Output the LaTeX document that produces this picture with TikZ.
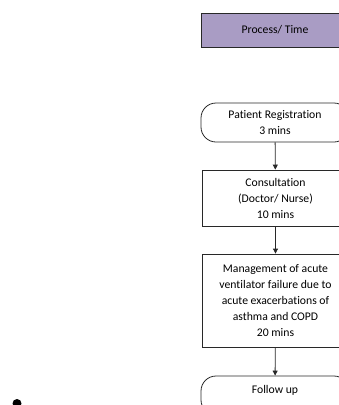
\documentclass[tikz,border=0pt]{standalone}
\usepackage{xcolor}
\usepackage{tikz}
\usepackage{fontspec}
\setmainfont{Carlito}[Ligatures=NoCommon]
\usetikzlibrary{arrows.meta, positioning}
\definecolor{headpurple}{RGB}{169, 156, 196}
\definecolor{edgegray}{RGB}{40, 40, 40}

\begin{document}
\begin{tikzpicture}[
  x=1pt, y=-1pt,
  font=\fontsize{11.7}{16}\selectfont,
  head/.style={draw=edgegray, line width=0.8pt, fill=headpurple, minimum width=148pt, minimum height=34pt, inner sep=0pt},
  proc/.style={draw=edgegray, line width=0.8pt, fill=white, minimum width=147pt, inner sep=0pt, align=center},
  term/.style={draw=edgegray, line width=0.8pt, fill=white, rounded corners=15pt, minimum width=148pt, minimum height=39pt, inner sep=0pt, align=center},
  flow/.style={-{Triangle[length=5pt, width=5pt]}, line width=0.8pt, draw=edgegray},
]
  \useasboundingbox (0,0) rectangle (339,405);
  \clip (0,0) rectangle (339,405);

  % Header
  \node[head] (header) at (275,30) {Process/ Time};

  % Steps
  \node[term] (reg) at (275,122.5) {Patient Registration\\3 mins};
  \node[proc, minimum height=56pt] (consult) at (275.5,198) {Consultation\\(Doctor/ Nurse)\\10 mins};
  \node[proc, minimum height=93pt] (manage) at (275.5,300.5) {Management of acute\\ventilator failure due to\\acute exacerbations of\\asthma and COPD\\20 mins};
  \node[term] (follow) at (275,395.5) {};
  \node at (275,390) {Follow up};

  % Connections
  \draw[flow] (reg) -- (consult);
  \draw[flow] (consult) -- (manage);
  \draw[flow] (manage) -- (follow);

  % Bullet
  \node[circle, fill=black, minimum size=9pt, inner sep=0pt] (dot) at (17,403.5) {};

\end{tikzpicture}
\end{document}
